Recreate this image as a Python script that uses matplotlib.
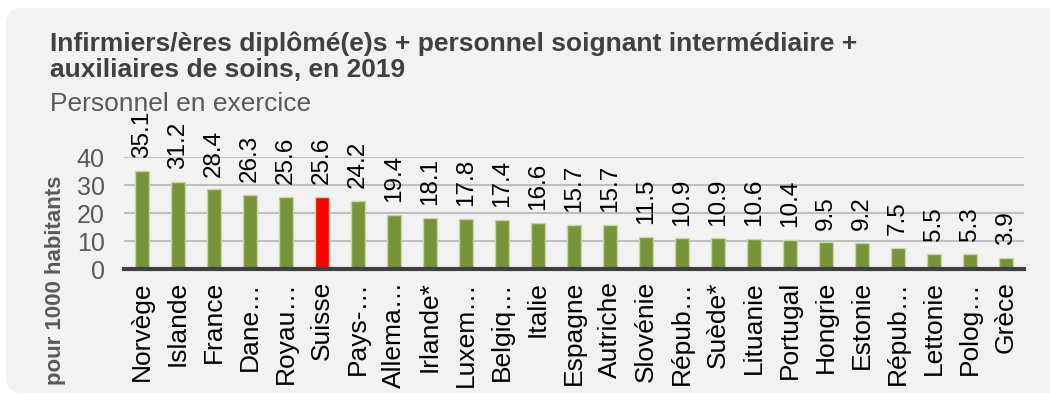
import matplotlib
matplotlib.use("Agg")
import matplotlib.pyplot as plt
from matplotlib.patches import FancyBboxPatch

plt.rcParams['font.family'] = ['Liberation Sans', 'DejaVu Sans']

countries = ["Norvège", "Islande", "France", "Dane…", "Royau…", "Suisse", "Pays-…",
             "Allema…", "Irlande*", "Luxem…", "Belgiq…", "Italie", "Espagne", "Autriche",
             "Slovénie", "Répub…", "Suède*", "Lituanie", "Portugal", "Hongrie", "Estonie",
             "Répub…", "Lettonie", "Polog…", "Grèce"]
values = [35.1, 31.2, 28.4, 26.3, 25.6, 25.6, 24.2, 19.4, 18.1, 17.8, 17.4, 16.6, 15.7,
          15.7, 11.5, 10.9, 10.9, 10.6, 10.4, 9.5, 9.2, 7.5, 5.5, 5.3, 3.9]
highlight = "Suisse"
yticks = [0, 10, 20, 30, 40]

W, H = 1050, 406
fig = plt.figure(figsize=(W/100, H/100), dpi=100)
fig.patch.set_facecolor("white")

card = FancyBboxPatch((6/W, 12/H), (W+20)/W, (397-12)/H,
                      boxstyle="round,pad=0,rounding_size=0.016",
                      transform=fig.transFigure, facecolor="#f2f2f2",
                      edgecolor="none", zorder=-5, mutation_aspect=W/H)
fig.patches.append(card)

ax = fig.add_axes([124/W, 1-270/H, (1024-124)/W, (270-158)/H])
ax.set_facecolor("none")

n = len(countries)
x = list(range(n))
colors = ["#ff0000" if c == highlight else "#77933c" for c in countries]
ax.bar(x, values, width=0.38, color=colors, edgecolor="#c6d9a0", linewidth=1.0, zorder=3)

for xi, v in zip(x, values):
    ax.annotate(f"{v:.1f}", (xi, v), xytext=(0, 10), textcoords="offset points",
                rotation=90, ha="center", va="bottom", fontsize=17.5, color="#000000",
                annotation_clip=False)

ax.set_xlim(-0.5, n-0.5)
ax.set_ylim(0, 40)
ax.set_yticks(yticks)
ax.set_yticklabels([str(t) for t in yticks], fontsize=18, color="#595959")
ax.tick_params(axis="y", length=0, pad=14)
ax.set_xticks(x)
ax.set_xticklabels(countries, rotation=90, fontsize=19, color="#000000")
ax.tick_params(axis="x", length=0, pad=8)

ax.grid(axis="y", color="#bfbfbf", linewidth=1.5, zorder=0)
ax.set_axisbelow(True)
for s in ["top", "right", "left"]:
    ax.spines[s].set_visible(False)
ax.spines["bottom"].set_color("#404040")
ax.spines["bottom"].set_linewidth(3)
ax.spines["bottom"].set_zorder(4)

fig.text(50/W, 1-51/H, "Infirmiers/ères diplômé(e)s + personnel soignant intermédiaire +",
         fontsize=19, fontweight="bold", color="#404040", va="baseline", ha="left")
fig.text(50/W, 1-77/H, "auxiliaires de soins, en 2019",
         fontsize=19, fontweight="bold", color="#404040", va="baseline", ha="left")
fig.text(50/W, 1-111/H, "Personnel en exercice", fontsize=19, color="#595959",
         va="baseline", ha="left")
fig.text(55/W, 1-280/H, "pour 1000 habitants", fontsize=16, fontweight="bold", color="#595959",
         rotation=90, va="center", ha="center")

fig.savefig("out.png", dpi=100)
